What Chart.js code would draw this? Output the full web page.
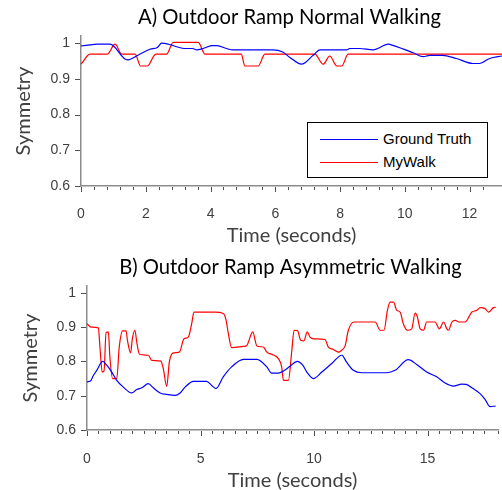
<!DOCTYPE html>
<html>
<head>
<meta charset="utf-8">
<script src="https://cdn.jsdelivr.net/npm/chart.js@4.4.0/dist/chart.umd.min.js"></script>
<style>
  body { margin: 0; background: #fff; overflow: hidden; }
  #wrap { position: relative; width: 502px; height: 490px; overflow: hidden; }
  .box { position: absolute; left: 0; width: 502px; }
  #legend {
    position: absolute; left: 307px; top: 122px; width: 179px; height: 54px;
    border: 1.5px solid #000; background: #fff;
    font-family: "Liberation Sans", Arial, sans-serif; font-size: 15px; color: #000;
  }
  .ln { position: absolute; left: 12px; width: 58px; height: 1px; }
  .txt { position: absolute; left: 75px; height: 18px; line-height: 18px; }
</style>
</head>
<body>
<div id="wrap">
  <div class="box" style="top:0;height:250px"><canvas id="chartA"></canvas></div>
  <div class="box" style="top:250px;height:243px"><canvas id="chartB"></canvas></div>
  <div id="legend">
    <div class="ln" style="top:16px;background:#0000ff"></div>
    <div class="txt" style="top:7px">Ground Truth</div>
    <div class="ln" style="top:39px;background:#ff0000"></div>
    <div class="txt" style="top:30px">MyWalk</div>
  </div>
</div>
<script>
// A) Outdoor Ramp Normal Walking
const timeA_truth = [0, 0.28, 0.5, 0.9, 1.43, 1.77, 2.13, 2.36, 2.49, 2.7, 2.95, 3.2, 3.45, 3.57, 3.77, 4.04, 4.2, 4.49, 4.69, 5.93, 6.23, 6.45, 6.81, 7.17, 7.38, 8.2, 8.3, 8.6, 9.02, 9.49, 9.65, 10.26, 10.57, 10.77, 11.17, 11.59, 12.1, 12.3, 12.62, 13];
const valsA_truth = [0.992, 0.995, 0.997, 0.997, 0.953, 0.967, 0.983, 0.988, 1.0, 0.997, 0.99, 0.985, 0.985, 0.981, 0.985, 0.993, 0.993, 0.985, 0.981, 0.981, 0.975, 0.96, 0.941, 0.966, 0.981, 0.981, 0.985, 0.985, 0.981, 0.997, 0.993, 0.973, 0.962, 0.966, 0.966, 0.957, 0.943, 0.943, 0.957, 0.964];
const timeA_mywalk = [0, 0.28, 0.81, 1.05, 1.26, 1.67, 1.84, 2.05, 2.31, 2.64, 2.85, 3.62, 3.83, 4.95, 5.06, 5.47, 5.68, 7.22, 7.48, 7.68, 7.9, 8.05, 8.25, 13];
const valsA_mywalk = [0.941, 0.969, 0.969, 0.997, 0.969, 0.969, 0.936, 0.936, 0.969, 0.969, 1.002, 1.002, 0.969, 0.969, 0.936, 0.936, 0.969, 0.969, 0.941, 0.964, 0.936, 0.936, 0.969, 0.969];

// B) Outdoor Ramp Asymmetric Walking
const timeB_truth = [0, 0.18, 0.28, 0.43, 0.69, 0.87, 1.09, 1.31, 1.6, 1.97, 2.19, 2.41, 2.7, 2.92, 3.22, 3.51, 3.88, 4.1, 4.32, 4.68, 5.27, 5.49, 5.68, 6.0, 6.37, 6.89, 7.48, 7.92, 8.13, 8.43, 8.65, 8.94, 9.26, 9.5, 9.68, 9.97, 10.34, 10.78, 11.22, 11.44, 11.73, 12.1, 13.2, 13.57, 14.15, 14.52, 14.96, 15.4, 15.77, 16.14, 16.5, 16.7, 17.02, 17.31, 17.53, 17.75, 18];
const valsB_truth = [0.74, 0.745, 0.759, 0.774, 0.8, 0.789, 0.769, 0.745, 0.725, 0.708, 0.718, 0.723, 0.735, 0.723, 0.708, 0.704, 0.701, 0.708, 0.725, 0.742, 0.742, 0.73, 0.721, 0.755, 0.784, 0.806, 0.806, 0.784, 0.766, 0.766, 0.772, 0.786, 0.8, 0.789, 0.769, 0.75, 0.769, 0.794, 0.818, 0.797, 0.774, 0.767, 0.767, 0.774, 0.805, 0.791, 0.769, 0.755, 0.737, 0.728, 0.734, 0.733, 0.72, 0.706, 0.689, 0.668, 0.67];
const timeB_mywalk = [0, 0.18, 0.5, 0.57, 0.67, 0.75, 0.84, 0.94, 1.01, 1.13, 1.31, 1.42, 1.57, 1.72, 1.78, 1.92, 2.0, 2.11, 2.19, 2.31, 2.7, 2.85, 3.25, 3.36, 3.51, 3.63, 3.83, 4.07, 4.27, 4.46, 4.61, 4.71, 5.64, 6.0, 6.12, 6.22, 6.37, 6.9, 7.03, 7.3, 7.48, 7.77, 7.92, 8.13, 8.43, 8.57, 8.65, 8.87, 9.02, 9.12, 9.27, 9.41, 9.55, 9.7, 9.82, 10.0, 10.48, 10.63, 10.85, 11.07, 11.2, 11.37, 11.51, 11.76, 12.69, 12.91, 13.08, 13.23, 13.35, 13.5, 13.64, 13.79, 13.93, 14.11, 14.3, 14.45, 14.55, 14.67, 14.82, 14.96, 15.33, 15.52, 15.7, 15.85, 15.92, 16.07, 16.22, 16.37, 16.65, 16.95, 17.17, 17.31, 17.53, 17.68, 17.9, 18];
const valsB_mywalk = [0.91, 0.9, 0.898, 0.842, 0.769, 0.772, 0.884, 0.886, 0.81, 0.75, 0.75, 0.842, 0.889, 0.889, 0.862, 0.825, 0.867, 0.891, 0.857, 0.821, 0.818, 0.803, 0.801, 0.779, 0.727, 0.8, 0.825, 0.827, 0.866, 0.871, 0.91, 0.944, 0.944, 0.94, 0.922, 0.883, 0.84, 0.844, 0.846, 0.886, 0.845, 0.842, 0.827, 0.821, 0.808, 0.785, 0.745, 0.745, 0.832, 0.891, 0.89, 0.862, 0.86, 0.886, 0.871, 0.866, 0.864, 0.842, 0.835, 0.827, 0.832, 0.846, 0.891, 0.915, 0.915, 0.891, 0.891, 0.949, 0.973, 0.973, 0.949, 0.944, 0.91, 0.891, 0.895, 0.941, 0.93, 0.895, 0.891, 0.915, 0.915, 0.895, 0.915, 0.895, 0.891, 0.915, 0.92, 0.915, 0.915, 0.944, 0.949, 0.957, 0.954, 0.944, 0.957, 0.958];

const yTicks = [0.6, 0.7, 0.8, 0.9, 1];

const axisGray = '#8c8c8c';
const tickGray = '#505050';
const textGray = '#404040';
const titleFont = 'Lato, "Open Sans", sans-serif';
const tickFont = '"Liberation Sans", Arial, sans-serif';

function toPoints(xs, ys) {
    return xs.map((x, i) => ({ x: x, y: ys[i] }));
}

// titre centre sur la zone du graphe + petits traits sous les axes
const decoPlugin = {
    id: 'deco',
    afterDraw(chart, args, opts) {
        const ctx = chart.ctx;
        const a = chart.chartArea;
        const xs = chart.scales.x;
        const ys = chart.scales.y;
        ctx.save();
        ctx.fillStyle = '#000';
        ctx.font = '20.2px ' + titleFont;
        ctx.textAlign = 'center';
        ctx.textBaseline = 'middle';
        ctx.fillText(opts.text, (a.left + a.right) / 2 - 2, 17);

        ctx.strokeStyle = tickGray;
        ctx.lineWidth = 1;
        ctx.beginPath();
        xs.ticks.forEach(t => {
            const k = t.value / opts.majorStep;
            const major = Math.abs(k - Math.round(k)) < 1e-6;
            const px = Math.round(xs.getPixelForValue(t.value)) + 0.5;
            ctx.moveTo(px, a.bottom + 1);
            ctx.lineTo(px, a.bottom + (major ? 6 : 4));
        });
        ys.ticks.forEach(t => {
            const py = Math.round(ys.getPixelForValue(t.value)) + 0.5;
            ctx.moveTo(a.left - 1, py);
            ctx.lineTo(a.left - 6, py);
        });
        ctx.stroke();
        ctx.restore();
    }
};

function makeChart(id, cfg) {
    new Chart(document.getElementById(id), {
        type: 'line',
        data: {
            datasets: [
                { label: 'Ground Truth', data: toPoints(cfg.tTruth, cfg.vTruth), borderColor: '#0000ff', borderWidth: 1.2 },
                { label: 'MyWalk', data: toPoints(cfg.tWalk, cfg.vWalk), borderColor: '#ff0000', borderWidth: 1.2 }
            ]
        },
        options: {
            animation: false,
            responsive: true,
            maintainAspectRatio: false,
            elements: { point: { radius: 0 }, line: { cubicInterpolationMode: 'monotone' } },
            layout: { padding: { top: 36, right: cfg.padRight, left: 0, bottom: 0 } },
            plugins: {
                legend: { display: false },
                tooltip: { enabled: false },
                deco: { text: cfg.title, majorStep: cfg.majorStep }
            },
            scales: {
                x: {
                    type: 'linear',
                    min: 0,
                    max: cfg.xMax,
                    afterFit: s => {
                        s.height = cfg.xAxisH;
                        s.paddingLeft = 0;
                        s.paddingRight = 0;
                    },
                    border: { color: axisGray, width: 1.5 },
                    grid: { display: false, drawTicks: false },
                    ticks: {
                        stepSize: cfg.minorStep,
                        maxTicksLimit: 100,
                        autoSkip: false,
                        maxRotation: 0,
                        padding: cfg.xTickPad,
                        color: textGray,
                        font: { family: tickFont, size: 14 },
                        callback: v => {
                            const k = v / cfg.majorStep;
                            return Math.abs(k - Math.round(k)) < 1e-6 ? String(Math.round(v)) : '';
                        }
                    },
                    title: {
                        display: true,
                        text: 'Time (seconds)',
                        color: textGray,
                        font: { family: titleFont, size: 20 },
                        padding: { top: 0, bottom: cfg.xTitlePad }
                    }
                },
                y: {
                    min: 0.6,
                    max: 1.02,
                    afterFit: s => {
                        s.width = cfg.yAxisW;
                        s.paddingTop = 0;
                        s.paddingBottom = 0;
                    },
                    afterBuildTicks: s => { s.ticks = yTicks.map(v => ({ value: v })); },
                    border: { color: axisGray, width: 1.5 },
                    grid: { display: false, drawTicks: false },
                    ticks: {
                        padding: 11,
                        color: textGray,
                        font: { family: tickFont, size: 14 },
                        callback: v => (v === 1 ? '1' : v.toFixed(1))
                    },
                    title: {
                        display: true,
                        text: 'Symmetry',
                        color: textGray,
                        font: { family: titleFont, size: 20 },
                        padding: { top: cfg.yTitlePad, bottom: 0 }
                    }
                }
            }
        },
        plugins: [decoPlugin]
    });
}

makeChart('chartA', {
    title: 'A) Outdoor Ramp Normal Walking',
    tTruth: timeA_truth, vTruth: valsA_truth, tWalk: timeA_mywalk, vWalk: valsA_mywalk,
    xMax: 13, minorStep: 0.4, majorStep: 2,
    padRight: 0, xAxisH: 64, yAxisW: 81, xTickPad: 20, xTitlePad: 2, yTitlePad: 12
});

makeChart('chartB', {
    title: 'B) Outdoor Ramp Asymmetric Walking',
    tTruth: timeB_truth, vTruth: valsB_truth, tWalk: timeB_mywalk, vWalk: valsB_mywalk,
    xMax: 18.1, minorStep: 0.5, majorStep: 5,
    padRight: 4, xAxisH: 63, yAxisW: 87, xTickPad: 21, xTitlePad: 0, yTitlePad: 19
});
</script>
</body>
</html>
